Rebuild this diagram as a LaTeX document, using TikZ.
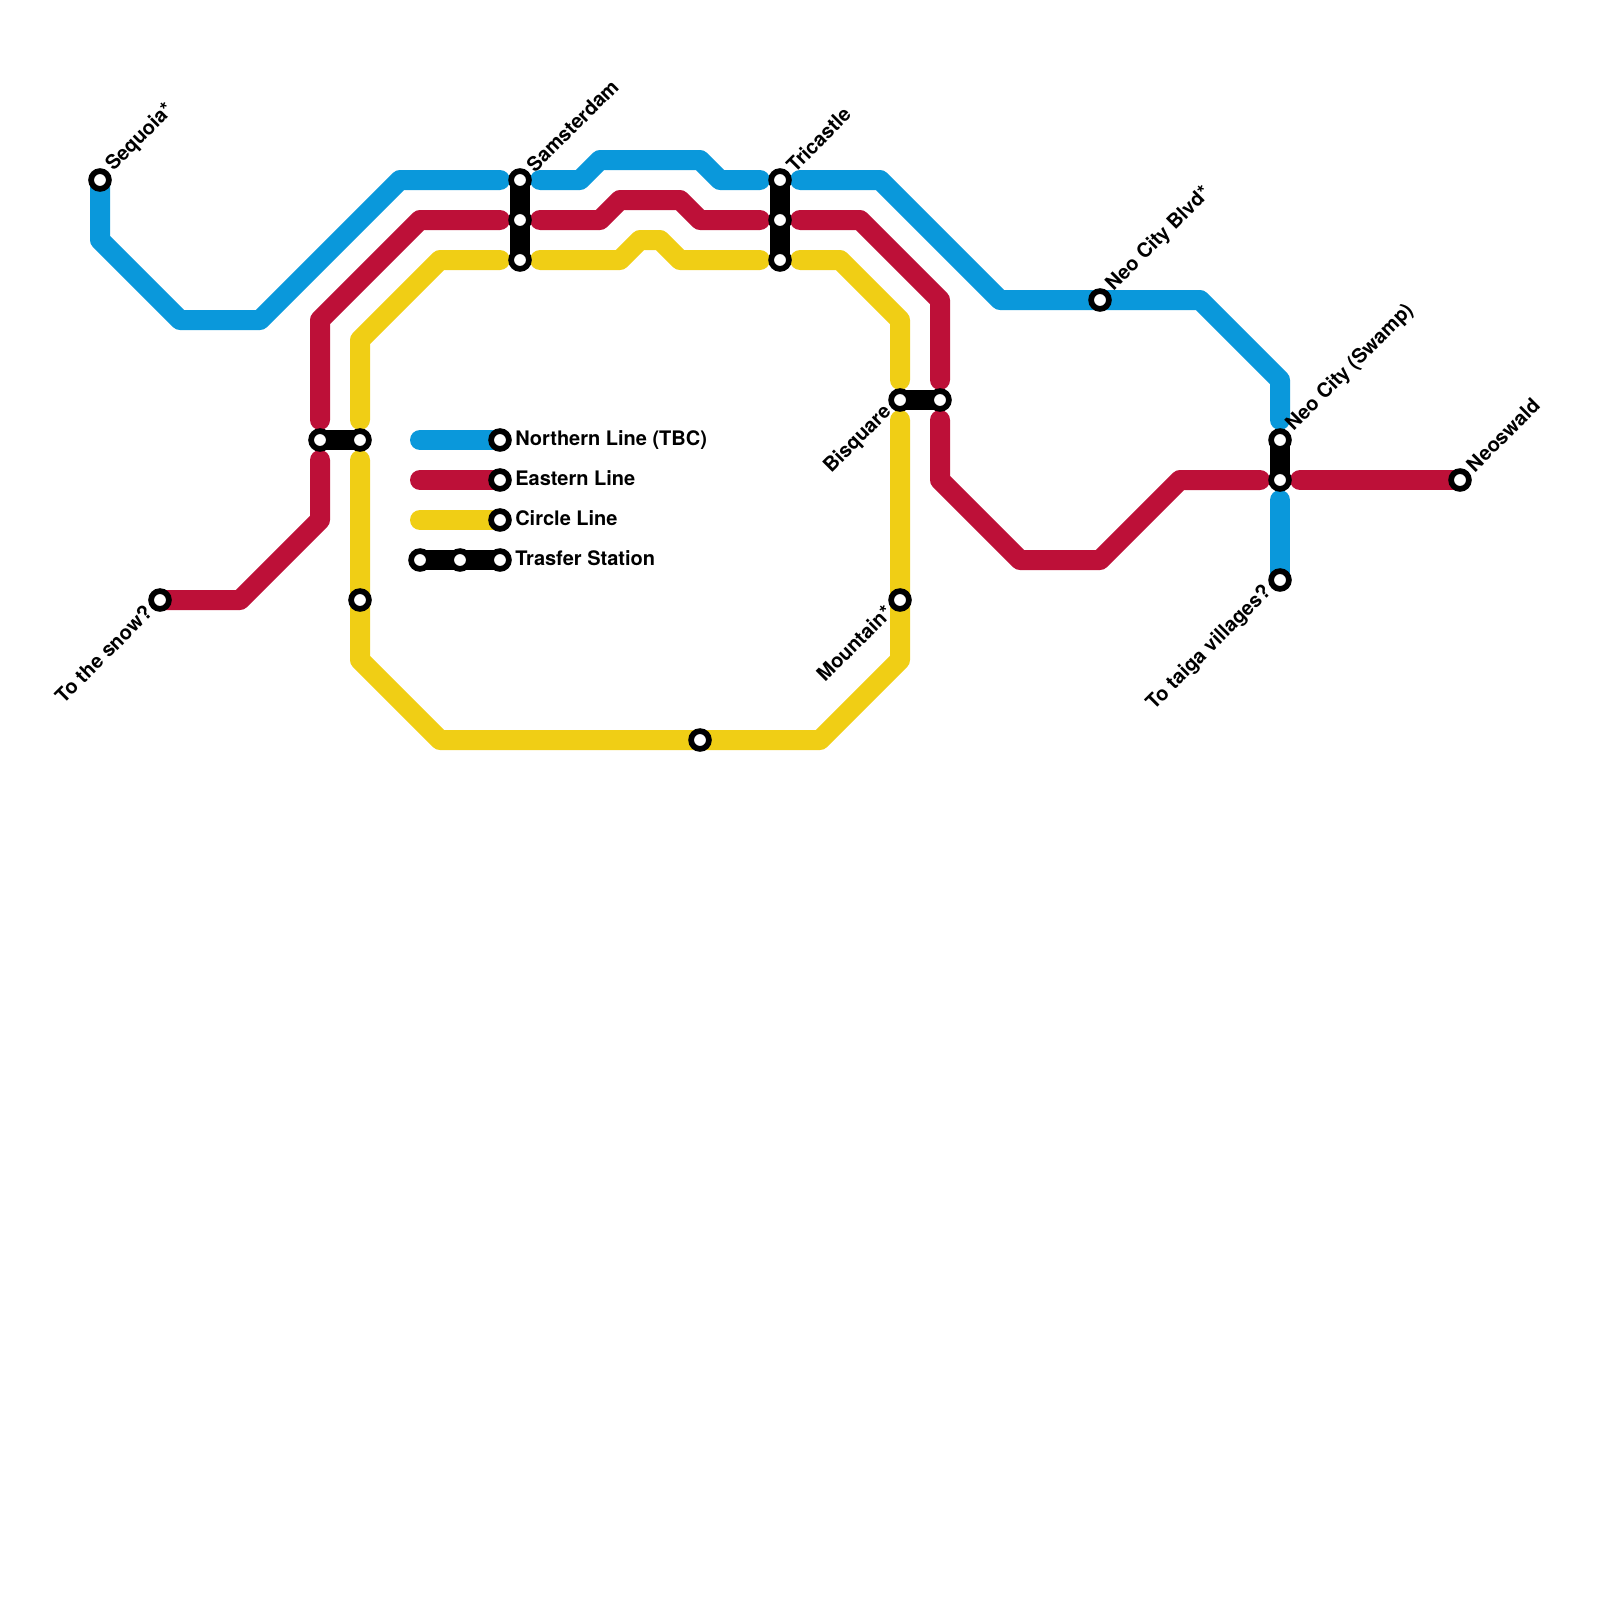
\documentclass[tikz,border=0pt]{standalone}
\usepackage{fontspec}
\setmainfont{TeX Gyre Heros}
\usetikzlibrary{backgrounds,positioning}

\definecolor{northblue}{HTML}{0A98DB}
\definecolor{eastred}{HTML}{BD1038}
\definecolor{circleyellow}{HTML}{F0CE15}

\begin{document}
\begin{tikzpicture}[
    x=10pt,y=-10pt,
    station/.style={circle,draw=black,fill=white,line width=2.85pt,
        minimum size=8.9pt,inner sep=0pt,outer sep=0pt},
    transfer/.style={black,line width=10pt},
    track/.style={line width=10pt,line cap=round,line join=round},
    northern/.style={track,northblue},
    eastern/.style={track,eastred},
    circleline/.style={track,circleyellow},
    stationname/.style={font=\bfseries\fontsize{10}{12}\selectfont,inner sep=0pt},
    upname/.style={stationname,xshift=4.8pt,yshift=5.8pt,rotate=45,anchor=west},
    downname/.style={stationname,xshift=-5.7pt,yshift=-4.4pt,rotate=45,anchor=east},
    legendname/.style={stationname,text height=7.2pt,text depth=0pt,yshift=1.1pt}
]
    \useasboundingbox (0,0) rectangle (80,80);

    \foreach \name/\x/\y in {
        sequoia/5/9,snow/8/30,west-east/16/22,west-circle/18/22,
        southwest/18/30,south/35/37,
        sam-north/26/9,sam-east/26/11,sam-circle/26/13,
        tri-north/39/9,tri-east/39/11,tri-circle/39/13,
        bis-circle/45/20,bis-east/47/20,mountain/45/30,
        blvd/55/15,swamp-north/64/22,swamp-east/64/24,
        taiga/64/29,neoswald/73/24,
        legend-north/25/22,legend-east/25/24,legend-circle/25/26,
        legend-a/21/28,legend-b/23/28,legend-c/25/28} {
        \node[station] (\name) at (\x,\y) {};
    }

    \foreach \name/\x/\y in {
        sam-nw/25/9,sam-ne/27/9,sam-ew/25/11,sam-ee/27/11,sam-cw/25/13,sam-ce/27/13,
        tri-nw/38/9,tri-ne/40/9,tri-ew/38/11,tri-ee/40/11,tri-cw/38/13,tri-ce/40/13,
        west-eu/16/21,west-ed/16/23,west-cu/18/21,west-cd/18/23,
        bis-cu/45/19,bis-cd/45/21,bis-eu/47/19,bis-ed/47/21,
        swamp-nu/64/21,swamp-nd/64/25,swamp-ew/63/24,swamp-ee/65/24,
        legend-nstart/21/22,legend-estart/21/24,legend-cstart/21/26} {
        \coordinate (\name) at (\x,\y);
    }

    \begin{pgfonlayer}{background}
        \draw[northern] (sequoia.center) -- (5,12) -- (9,16) -- (13,16) -- (20,9) -- (sam-nw);
        \draw[northern] (sam-ne) -- (29,9) -- (30,8) -- (35,8) -- (36,9) -- (tri-nw);
        \draw[northern] (tri-ne) -- (44,9) -- (50,15) -- (blvd.center) -- (60,15) -- (64,19) -- (swamp-nu);
        \draw[northern] (swamp-nd) -- (taiga.center);

        \draw[eastern] (snow.center) -- (12,30) -- (16,26) -- (west-ed);
        \draw[eastern] (west-eu) -- (16,16) -- (21,11) -- (sam-ew);
        \draw[eastern] (sam-ee) -- (30,11) -- (31,10) -- (34,10) -- (35,11) -- (tri-ew);
        \draw[eastern] (tri-ee) -- (43,11) -- (47,15) -- (bis-eu);
        \draw[eastern] (bis-ed) -- (47,24) -- (51,28) -- (55,28) -- (59,24) -- (swamp-ew);
        \draw[eastern] (swamp-ee) -- (neoswald.center);

        \draw[circleline] (west-cu) -- (18,17) -- (22,13) -- (sam-cw);
        \draw[circleline] (sam-ce) -- (31,13) -- (32,12) -- (33,12) -- (34,13) -- (tri-cw);
        \draw[circleline] (tri-ce) -- (42,13) -- (45,16) -- (bis-cu);
        \draw[circleline] (bis-cd) -- (mountain.center) -- (45,33) -- (41,37)
            -- (south.center) -- (22,37) -- (18,33) -- (southwest.center) -- (west-cd);

        \draw[northern] (legend-nstart) -- (legend-north.center);
        \draw[eastern] (legend-estart) -- (legend-east.center);
        \draw[circleline] (legend-cstart) -- (legend-circle.center);

        \draw[transfer] (west-east.center) -- (west-circle.center);
        \draw[transfer] (sam-north.center) -- (sam-circle.center);
        \draw[transfer] (tri-north.center) -- (tri-circle.center);
        \draw[transfer] (bis-circle.center) -- (bis-east.center);
        \draw[transfer] (swamp-north.center) -- (swamp-east.center);
        \draw[transfer] (legend-a.center) -- (legend-c.center);
    \end{pgfonlayer}

    \node[upname] (sequoia-name) at (sequoia) {Sequoia*};
    \node[upname] (sam-name) at (sam-north) {Samsterdam};
    \node[upname] (tri-name) at (tri-north) {Tricastle};
    \node[upname] (blvd-name) at (blvd) {Neo City Blvd*};
    \node[upname] (swamp-name) at (swamp-north) {Neo City (Swamp)};
    \node[upname] (neoswald-name) at (neoswald) {Neoswald};
    \node[downname] (snow-name) at (snow) {To the snow?};
    \node[downname] (bis-name) at (bis-circle) {Bisquare};
    \node[downname] (mountain-name) at (mountain) {Mountain*};
    \node[downname] (taiga-name) at (taiga) {To taiga villages?};

    \node[legendname,right=3pt of legend-north] (legend-north-name) {Northern Line (TBC)};
    \node[legendname,right=3pt of legend-east] (legend-east-name) {Eastern Line};
    \node[legendname,right=3pt of legend-circle] (legend-circle-name) {Circle Line};
    \node[legendname,right=3pt of legend-c] (legend-c-name) {Trasfer Station};
\end{tikzpicture}
\end{document}
